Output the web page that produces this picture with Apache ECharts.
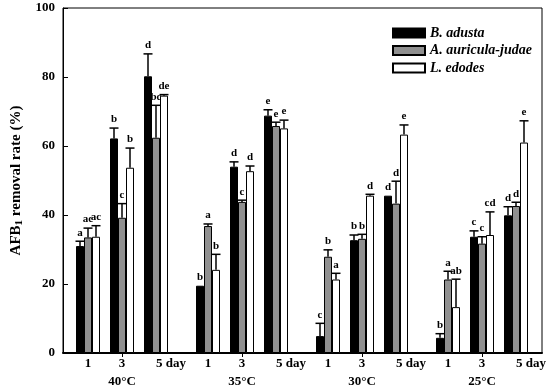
<!DOCTYPE html>
<html>
<head>
<meta charset="utf-8">
<script src="https://cdn.jsdelivr.net/npm/echarts@6/dist/echarts.min.js"></script>
<style>html,body{margin:0;padding:0;background:#fff}#c{width:550px;height:389px}</style>
</head>
<body>
<div id="c"></div>
<script>
const days = ['1', '3', '5 day'];
const temps = ['40°C', '35°C', '30°C', '25°C'];
const speciesNames = ['B. adusta', 'A. auricula-judae', 'L. edodes'];

// values per temperature: [day1, day3, day5]
const adusta      = [[31.0, 62.2, 80.2], [19.5, 54.0, 68.8], [4.9, 32.7, 45.6], [4.4, 33.7, 39.9]];
const adustaErr   = [[1.4, 3.0, 6.5], [0, 1.4, 1.7], [3.7, 1.5, 0], [1.2, 1.7, 2.5]];
const adustaSig   = [['a', 'b', 'd'], ['b', 'd', 'e'], ['c', 'b', 'd'], ['b', 'c', 'd']];

const auricula    = [[33.5, 39.2, 62.4], [36.8, 43.8, 65.8], [27.9, 33.1, 43.3], [21.3, 31.7, 42.6]];
const auriculaErr = [[2.7, 4.1, 9.4], [0.6, 0.5, 1.1], [2.0, 1.3, 6.5], [2.4, 2.0, 1.1]];
const auriculaSig = [['ac', 'c', 'bc'], ['a', 'c', 'e'], ['b', 'b', 'd'], ['a', 'c', 'd']];

const edodes      = [[33.7, 53.7, 74.6], [24.1, 52.7, 65.1], [21.3, 45.6, 63.3], [13.3, 34.2, 61.0]];
const edodesErr   = [[3.2, 5.7, 0.3], [4.5, 1.5, 2.4], [1.8, 0.4, 2.8], [8.1, 6.7, 6.3]];
const edodesSig   = [['ac', 'b', 'de'], ['b', 'd', 'e'], ['a', 'd', 'e'], ['ab', 'cd', 'e']];

const yTicks = [0, 20, 40, 60, 80, 100];

const values = [adusta, auricula, edodes];
const errs = [adustaErr, auriculaErr, edodesErr];
const sigs = [adustaSig, auriculaSig, edodesSig];
const fills = ['#000000', '#909090', '#ffffff'];
const FONT = "'Liberation Serif', 'DejaVu Serif', serif";
const BW = 8;

const grids = [{ left: 63, right: 8, top: 8, bottom: 36, show: true, borderColor: '#000', borderWidth: 1, outerBoundsMode: 'none', containLabel: false }];
const xAxes = [{
  gridIndex: 0, type: 'value', min: 0, max: 1,
  axisLine: { show: true, lineStyle: { color: '#000', width: 2 } },
  axisTick: { show: false }, axisLabel: { show: false }, splitLine: { show: false }
}];
const yAxes = [{
  gridIndex: 0, type: 'value', min: yTicks[0], max: yTicks[yTicks.length - 1], interval: 20,
  axisLine: { show: true, lineStyle: { color: '#000', width: 1 } },
  axisTick: { show: true, inside: true, length: 5, lineStyle: { color: '#000' } },
  axisLabel: { margin: 8, color: '#000', fontFamily: FONT, fontWeight: 'bold', fontSize: 13 },
  splitLine: { show: false },
  name: 'AFB{sub|1} removal rate (%)', nameLocation: 'middle', nameGap: 34,
  nameTextStyle: {
    color: '#000', fontFamily: FONT, fontWeight: 'bold', fontSize: 15,
    rich: { sub: { fontFamily: FONT, fontWeight: 'bold', fontSize: 11, verticalAlign: 'bottom', padding: [6, 0, 0, 0] } }
  }
}];
const series = [];

temps.forEach((t, g) => {
  const gi = g + 1;
  grids.push({ left: 71 + 120 * g, width: 102, top: 8, bottom: 36, outerBoundsMode: 'none', containLabel: false });
  xAxes.push({
    gridIndex: gi, type: 'category',
    data: days.map((d, i) => i === 2 ? { value: d, textStyle: { align: 'left', padding: [0, 0, 0, 0] } } : d),
    axisLine: { show: false },
    axisTick: { show: true, length: 4, interval: (i) => i === 1, alignWithLabel: true, lineStyle: { color: '#000' } },
    axisLabel: { interval: 0, margin: 4, color: '#000', fontFamily: FONT, fontWeight: 'bold', fontSize: 13 },
    name: t, nameLocation: 'middle', nameGap: 16,
    nameTextStyle: { color: '#000', fontFamily: FONT, fontWeight: 'bold', fontSize: 13 }
  });
  yAxes.push({ gridIndex: gi, type: 'value', min: 0, max: 100, show: false });
  speciesNames.forEach((sp, s) => {
    series.push({
      name: sp, type: 'bar', xAxisIndex: gi, yAxisIndex: gi,
      barWidth: BW, barGap: '0%',
      itemStyle: { color: fills[s], borderColor: '#000', borderWidth: 1 },
      data: values[s][g], z: 2
    });
  });
  speciesNames.forEach((sp, s) => {
    series.push({
      type: 'custom', xAxisIndex: gi, yAxisIndex: gi, z: 5,
      data: values[s][g].map((v, i) => [i, v, errs[s][g][i]]),
      renderItem: function (params, api) {
        const i = api.value(0), v = api.value(1), e = api.value(2);
        const base = api.coord([i, v]);
        const top = api.coord([i, v + e]);
        const cx = base[0] + (s - 1) * BW;
        const children = [];
        if (e > 0.05) {
          children.push({ type: 'line', shape: { x1: cx, y1: base[1], x2: cx, y2: top[1] }, style: { stroke: '#000', lineWidth: 1.5 } });
          children.push({ type: 'line', shape: { x1: cx - 4.5, y1: top[1], x2: cx + 4.5, y2: top[1] }, style: { stroke: '#000', lineWidth: 1.5 } });
        }
        children.push({
          type: 'text',
          style: {
            x: cx, y: top[1] - 3, text: sigs[s][g][params.dataIndex],
            textAlign: 'center', textVerticalAlign: 'bottom',
            font: "bold 11px 'Liberation Serif', serif", fill: '#000'
          }
        });
        return { type: 'group', children: children };
      }
    });
  });
});

const chart = echarts.init(document.getElementById('c'), null, { renderer: 'canvas' });
chart.setOption({
  animation: false,
  backgroundColor: '#fff',
  grid: grids, xAxis: xAxes, yAxis: yAxes, series: series,
  legend: {
    data: speciesNames, orient: 'vertical', left: 392, top: 26, padding: 0,
    itemWidth: 32, itemHeight: 9, itemGap: 3.5, icon: 'rect',
    textStyle: { color: '#000', fontFamily: FONT, fontWeight: 'bold', fontStyle: 'italic', fontSize: 14 }
  }
});
</script>
</body>
</html>
